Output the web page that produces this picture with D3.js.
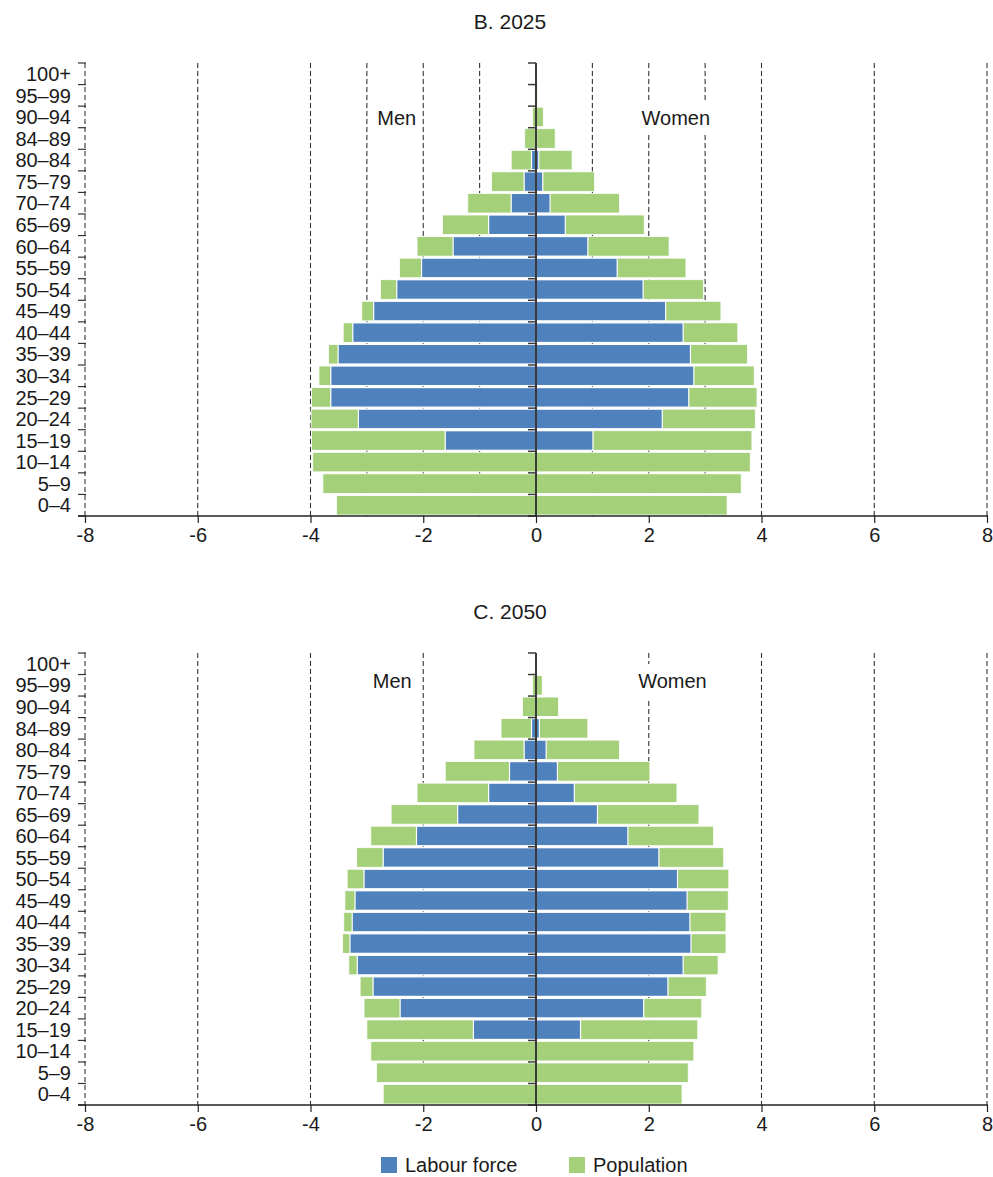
<!DOCTYPE html>
<html lang="en">
<head>
<meta charset="utf-8">
<title>Labour force and population pyramids</title>
<script src="https://cdn.jsdelivr.net/npm/d3@7"></script>
<style>
  body { margin: 0; background: #fff; }
  svg text { font-family: "Liberation Sans", Arial, sans-serif; fill: #1a1a1a; }
</style>
</head>
<body>
<script>
// age groups, bottom to top
var ageGroups = ["0–4", "5–9", "10–14", "15–19", "20–24", "25–29", "30–34", "35–39", "40–44",
  "45–49", "50–54", "55–59", "60–64", "65–69", "70–74", "75–79", "80–84", "84–89", "90–94", "95–99", "100+"];

// B. 2025
var menPop2025 = [3.54, 3.78, 3.96, 3.98, 3.99, 3.98, 3.85, 3.68, 3.42, 3.09, 2.76, 2.42, 2.11, 1.66, 1.21, 0.79, 0.44, 0.20, 0.06, 0.02, 0];
var menLab2025 = [0, 0, 0, 1.61, 3.15, 3.64, 3.64, 3.51, 3.25, 2.88, 2.47, 2.03, 1.47, 0.84, 0.44, 0.21, 0.08, 0, 0, 0, 0];
var womenPop2025 = [3.39, 3.64, 3.80, 3.83, 3.89, 3.92, 3.87, 3.75, 3.58, 3.28, 2.97, 2.66, 2.36, 1.92, 1.48, 1.04, 0.64, 0.34, 0.13, 0.03, 0.01];
var womenLab2025 = [0, 0, 0, 1.01, 2.24, 2.71, 2.80, 2.74, 2.61, 2.30, 1.90, 1.44, 0.92, 0.52, 0.25, 0.12, 0.05, 0.01, 0, 0, 0];

// C. 2050
var menPop2050 = [2.71, 2.83, 2.93, 3.00, 3.05, 3.12, 3.32, 3.43, 3.41, 3.39, 3.35, 3.18, 2.93, 2.57, 2.11, 1.61, 1.10, 0.62, 0.24, 0.06, 0];
var menLab2050 = [0, 0, 0, 1.11, 2.41, 2.89, 3.17, 3.30, 3.26, 3.21, 3.05, 2.71, 2.12, 1.39, 0.84, 0.47, 0.21, 0.08, 0, 0, 0];
var womenPop2050 = [2.59, 2.70, 2.80, 2.87, 2.94, 3.02, 3.23, 3.37, 3.37, 3.41, 3.42, 3.33, 3.15, 2.89, 2.50, 2.02, 1.48, 0.92, 0.40, 0.11, 0];
var womenLab2050 = [0, 0, 0, 0.79, 1.91, 2.34, 2.61, 2.75, 2.73, 2.68, 2.51, 2.18, 1.63, 1.09, 0.68, 0.38, 0.18, 0.06, 0, 0, 0];

var xTicks = [-8, -6, -4, -2, 0, 2, 4, 6, 8];
var grid2025 = [-8, -6, -4, -3, -2, -1, 1, 2, 3, 4, 6, 8];
var grid2050 = [-8, -6, -4, -2, 2, 4, 6, 8];

var blue = "#4f81bd", green = "#a3d079";

var width = 993, height = 1177;
var svg = d3.select("body").append("svg")
  .attr("width", width)
  .attr("height", height);

var x = d3.scaleLinear().domain([-8, 8]).range([85, 987]);

function sexLabel(g, cx, cy, txt) {
  var t = g.append("text")
    .attr("x", cx)
    .attr("y", cy)
    .attr("dy", "0.36em")
    .attr("text-anchor", "middle")
    .style("font-size", "20px")
    .text(txt);
  var b = t.node().getBBox();
  // white box behind the label hides the grid line
  g.insert("rect", function() { return t.node(); })
    .attr("x", b.x - 4)
    .attr("y", cy - 17)
    .attr("width", b.width + 8)
    .attr("height", 34)
    .attr("fill", "#fff");
}

function drawPanel(title, top, bottom, menPop, menLab, womenPop, womenLab, grid, lab) {
  var g = svg.append("g");

  var y = d3.scaleBand()
    .domain(ageGroups)
    .range([bottom, top])
    .padding(0);
  var bw = y.bandwidth();

  // title
  g.append("text")
    .attr("x", 510)
    .attr("y", top - 34)
    .attr("text-anchor", "middle")
    .style("font-size", "21px")
    .text(title);

  // dashed grid lines
  g.selectAll(".grid")
    .data(grid)
    .enter()
    .append("line")
    .attr("x1", function(d) { return x(d); })
    .attr("x2", function(d) { return x(d); })
    .attr("y1", top)
    .attr("y2", bottom)
    .attr("stroke", "#333")
    .attr("stroke-width", 1.1)
    .attr("stroke-dasharray", "5,3");

  // Men / Women labels
  sexLabel(g, x(lab.men), lab.y, "Men");
  sexLabel(g, x(lab.women), lab.y, "Women");

  var rows = ageGroups.map(function(a, i) {
    return { age: a, mp: menPop[i], ml: menLab[i], wp: womenPop[i], wl: womenLab[i] };
  });

  // population bars (green, full length)
  g.selectAll(".popM")
    .data(rows)
    .enter()
    .append("rect")
    .attr("x", function(d) { return x(-d.mp); })
    .attr("y", function(d) { return y(d.age) + 1; })
    .attr("width", function(d) { return x(0) - x(-d.mp); })
    .attr("height", bw - 2)
    .attr("fill", green)
    .attr("stroke", "#fff")
    .attr("stroke-width", 0.8);
  g.selectAll(".popW")
    .data(rows)
    .enter()
    .append("rect")
    .attr("x", x(0))
    .attr("y", function(d) { return y(d.age) + 1; })
    .attr("width", function(d) { return x(d.wp) - x(0); })
    .attr("height", bw - 2)
    .attr("fill", green)
    .attr("stroke", "#fff")
    .attr("stroke-width", 0.8);

  // labour force bars (blue)
  g.selectAll(".labM")
    .data(rows.filter(function(d) { return d.ml > 0; }))
    .enter()
    .append("rect")
    .attr("x", function(d) { return x(-d.ml); })
    .attr("y", function(d) { return y(d.age) + 1; })
    .attr("width", function(d) { return x(0) - x(-d.ml); })
    .attr("height", bw - 2)
    .attr("fill", blue)
    .attr("stroke", "#fff")
    .attr("stroke-width", 1.2);
  g.selectAll(".labW")
    .data(rows.filter(function(d) { return d.wl > 0; }))
    .enter()
    .append("rect")
    .attr("x", x(0))
    .attr("y", function(d) { return y(d.age) + 1; })
    .attr("width", function(d) { return x(d.wl) - x(0); })
    .attr("height", bw - 2)
    .attr("fill", blue)
    .attr("stroke", "#fff")
    .attr("stroke-width", 1.2);

  // band boundaries for the tick marks
  var bounds = ageGroups.map(function(a) { return y(a); });
  bounds.push(bottom);

  // left ticks and labels
  g.selectAll(".ltick")
    .data(bounds)
    .enter()
    .append("line")
    .attr("x1", x(-8) - 7)
    .attr("x2", x(-8) + 1)
    .attr("y1", function(d) { return d; })
    .attr("y2", function(d) { return d; })
    .attr("stroke", "#333")
    .attr("stroke-width", 1.2);
  g.selectAll(".ylab")
    .data(ageGroups)
    .enter()
    .append("text")
    .attr("x", 71)
    .attr("y", function(d) { return y(d) + bw / 2; })
    .attr("dy", "0.36em")
    .attr("text-anchor", "end")
    .style("font-size", "20px")
    .text(function(d) { return d; });

  // centre axis
  g.append("line")
    .attr("x1", x(0))
    .attr("x2", x(0))
    .attr("y1", top)
    .attr("y2", bottom)
    .attr("stroke", "#3a3a3a")
    .attr("stroke-width", 2);
  g.selectAll(".ctick")
    .data(bounds)
    .enter()
    .append("line")
    .attr("x1", x(0) - 8)
    .attr("x2", x(0))
    .attr("y1", function(d) { return d; })
    .attr("y2", function(d) { return d; })
    .attr("stroke", "#3a3a3a")
    .attr("stroke-width", 1.5);

  // x axis
  var xAxis = d3.axisBottom(x)
    .tickValues(xTicks)
    .tickSize(7)
    .tickPadding(5)
    .tickFormat(function(d) { return String(d); });
  var ax = g.append("g")
    .attr("transform", "translate(0," + bottom + ")")
    .call(xAxis);
  ax.select(".domain").remove();
  ax.append("line")
    .attr("x1", x(-8) - 7)
    .attr("x2", x(8) + 1)
    .attr("stroke", "#222")
    .attr("stroke-width", 1.5);
  ax.selectAll(".tick line").attr("stroke", "#222").attr("stroke-width", 1.2);
  ax.selectAll(".tick text")
    .style("font-size", "20px")
    .style("font-family", "'Liberation Sans', Arial, sans-serif")
    .attr("fill", "#1a1a1a");
}

drawPanel("B. 2025", 63, 516, menPop2025, menLab2025, womenPop2025, womenLab2025, grid2025,
  { men: -2.47, women: 2.48, y: 118 });
drawPanel("C. 2050", 653, 1105, menPop2050, menLab2050, womenPop2050, womenLab2050, grid2050,
  { men: -2.55, women: 2.42, y: 681 });

// legend
var legend = svg.append("g").attr("transform", "translate(0,1157)");
legend.append("rect").attr("x", 381).attr("y", 0).attr("width", 16).attr("height", 16).attr("fill", blue);
legend.append("text").attr("x", 405).attr("y", 8).attr("dy", "0.36em").style("font-size", "20px").text("Labour force");
legend.append("rect").attr("x", 569).attr("y", 0).attr("width", 16).attr("height", 16).attr("fill", green);
legend.append("text").attr("x", 593).attr("y", 8).attr("dy", "0.36em").style("font-size", "20px").text("Population");
</script>
</body>
</html>
